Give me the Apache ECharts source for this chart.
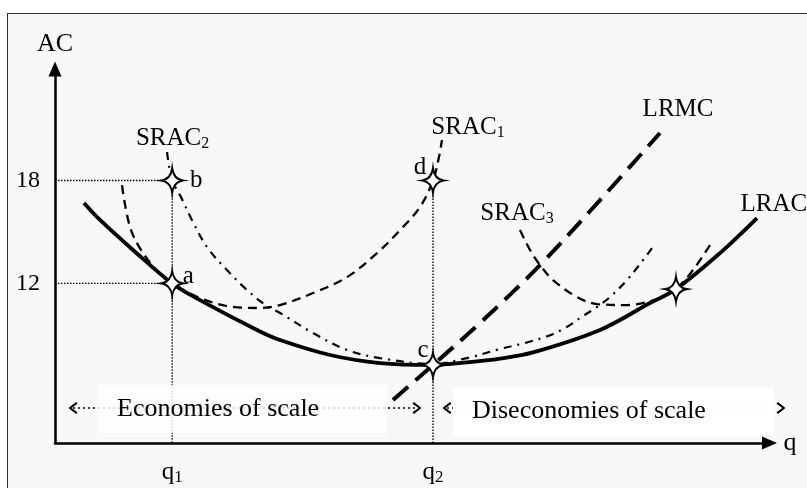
<!DOCTYPE html>
<html>
<head>
<meta charset="utf-8">
<script src="https://cdn.jsdelivr.net/npm/echarts@6/dist/echarts.min.js"></script>
<style>
html, body { margin: 0; padding: 0; background: #fff; overflow: hidden; }
#frame { position: absolute; left: 7px; top: 13px; width: 820px; height: 500px; border-top: 1.5px solid #333; border-left: 1.5px solid #333; background: #f8f8f8; }
#chart { position: absolute; left: 0; top: 0; width: 807px; height: 488px; }
</style>
</head>
<body>
<div id="frame"></div>
<div id="chart"></div>
<script>
// axes
const q1 = 16.4, q2 = 52.9;
const acMin = 2.7, acMax = 24.5;
const acTicks = [12, 18];
const qTicks = [q1, q2];
const qSubs = ['1', '2'];

// curves (q, AC)
const lracQ  = [4.06, 6.30, 10.92, 16.4, 20.29, 28.27, 31.49, 38.49, 45.49, 52.9, 57.66, 62.28, 66.9, 76.28, 83.27, 86.91, 93.07, 98.25];
const lracAC = [16.69, 15.70, 13.95, 12.0, 11.03, 9.29, 8.70, 7.83, 7.36, 7.25, 7.40, 7.62, 7.98, 9.29, 10.86, 11.67, 13.77, 15.81];

const srac1Q  = [9.38, 10.50, 12.32, 15.12, 16.4, 20.29, 24.91, 28.69, 31.49, 36.11, 40.87, 45.07, 48.29, 51.08, 52.9, 53.74, 54.16];
const srac1AC = [17.73, 15.29, 13.77, 12.37, 12.0, 11.15, 10.63, 10.57, 10.74, 11.44, 12.37, 13.77, 15.11, 16.45, 18.0, 19.37, 20.36];

const srac2Q  = [15.68, 16.4, 17.49, 19.31, 21.27, 24.07, 26.87, 29.67, 31.49, 36.11, 40.87, 45.49, 52.9, 57.66, 62.28, 65.78, 69.0, 71.38, 73.9, 75.86, 77.68, 80.06, 81.88, 83.55];
const srac2AC = [19.66, 18.0, 17.15, 15.58, 14.12, 12.78, 11.62, 10.68, 10.28, 9.11, 8.12, 7.65, 7.3, 7.65, 8.18, 8.53, 8.94, 9.40, 10.10, 10.63, 11.21, 12.20, 13.13, 14.06];

const srac3Q  = [65.08, 66.48, 67.88, 69.7, 73.06, 75.86, 80.06, 84.26, 86.91, 89.29, 91.95];
const srac3AC = [15.11, 13.95, 13.07, 12.2, 11.21, 10.8, 10.74, 11.09, 11.67, 12.78, 14.41];

const lrmcQ  = [47.31, 52.9, 59.48, 67.88, 76.28, 84.67];
const lrmcAC = [5.21, 7.25, 9.69, 13.07, 16.86, 20.77];

// marked points
const pointNames = ['b', 'd', 'a', 'c', ''];
const pointQ  = [q1, q2, q1, q2, 86.91];
const pointAC = [18, 18, 12, 7.25, 11.67];

// curve names
const labelText = ['SRAC', 'SRAC', 'SRAC', 'LRMC', 'LRAC'];
const labelSub  = ['2', '1', '3', '', ''];
const labelQ  = [16.45, 57.8, 64.66, 87.2, 100.6];
const labelAC = [20.47, 21.12, 16.10, 22.16, 16.63];

// scale regions
const regionText = ['Economies of scale', 'Diseconomies of scale'];
const regionFrom = [2.52, 54.86];
const regionTo   = [50.66, 101.6];
const regionAC = 4.74;
const boxQ  = [6.02, 55.7];
const boxAC = [4.68, 4.54];
const boxFill = ['rgba(255,255,255,0.82)', 'rgba(255,255,255,0.95)'];

const FONT = 'Liberation Serif';
const star = 'path://M0,-12 Q1.4,-1.4 10,0 Q1.4,1.4 0,12 Q-1.4,1.4 -10,0 Q-1.4,-1.4 0,-12 Z';
const chevL = 'path://M10,0 L12,2 L4,7 L12,12 L10,14 L0,7 Z';
const chevR = 'path://M2,0 L0,2 L8,7 L0,12 L2,14 L12,7 Z';
const noBorder = { textBorderWidth: 0, textBorderColor: 'transparent', textShadowBlur: 0 };

function zip(a, b) { return a.map((v, i) => [v, b[i]]); }

function curve(name, qs, acs, width, type, z) {
    return {
        name: name, type: 'line', data: zip(qs, acs), smooth: 0.35,
        symbol: 'none', z: z || 3,
        lineStyle: { color: '#000', width: width, type: type, cap: 'butt' }
    };
}

function dotted(points) {
    return {
        type: 'line', data: points, symbol: 'none', z: 2,
        lineStyle: { color: '#000', width: 1.3, type: [1.5, 1.5] }
    };
}

const series = [
    dotted([[0, 18], [q1, 18], [q1, acMin]]),
    dotted([[0, 12], [q1, 12]]),
    dotted([[q2, 18], [q2, acMin]]),
    curve('LRAC', lracQ, lracAC, 3.8, 'solid', 4),
    curve('SRAC1', srac1Q, srac1AC, 2.3, [9, 6]),
    curve('SRAC2', srac2Q, srac2AC, 2.2, [8, 6, 2, 6]),
    curve('SRAC3', srac3Q, srac3AC, 2.3, [9, 6]),
    curve('LRMC', lrmcQ, lrmcAC, 4, [20, 10])
];

regionText.forEach(function (t, i) {
    series.push({
        type: 'line', clip: false, z: 2, symbolSize: [9, 12],
        data: [{ value: [regionFrom[i], regionAC], symbol: chevL },
               { value: [regionTo[i], regionAC], symbol: chevR }],
        itemStyle: { color: '#000' },
        lineStyle: { color: '#000', width: 1.5, type: [2, 3] }
    });
});

series.push({
    type: 'scatter', clip: false, z: 5, symbol: 'circle', symbolSize: 0,
    itemStyle: { opacity: 1 },
    data: regionText.map((t, i) => ({
        value: [boxQ[i], boxAC[i]], name: t,
        label: { backgroundColor: boxFill[i] }
    })),
    label: Object.assign({
        show: true, position: 'inside', align: 'left', verticalAlign: 'middle',
        formatter: '{b}', color: '#000', fontFamily: FONT, fontSize: 26, lineHeight: 30,
        padding: [9, 68, 9, 19]
    }, noBorder)
});

series.push({
    type: 'scatter', clip: false, z: 10, symbol: star, symbolSize: [21, 25],
    itemStyle: { color: '#fff', borderColor: '#000', borderWidth: 2, opacity: 1 },
    data: pointNames.map((n, i) => ({ value: [pointQ[i], pointAC[i]], name: n })),
    label: Object.assign({
        show: true, position: 'inside', formatter: '{b}', color: '#000',
        fontFamily: FONT, fontSize: 25
    }, noBorder),
    labelLayout: function (p) {
        const off = { a: [16, -7], b: [24, 0], c: [-10, -15], d: [-13, -13] }[p.text] || [0, 0];
        return { dx: off[0], dy: off[1] };
    }
});

series.push({
    type: 'scatter', clip: false, z: 6, symbol: 'circle', symbolSize: 0,
    itemStyle: { opacity: 1 },
    data: labelText.map((t, i) => ({ value: [labelQ[i], labelAC[i]], name: t })),
    label: Object.assign({
        show: true, position: 'inside', align: 'center', verticalAlign: 'middle', color: '#000',
        formatter: p => '{m|' + labelText[p.dataIndex] + '}' + (labelSub[p.dataIndex] ? '{s|' + labelSub[p.dataIndex] + '}' : ''),
        rich: {
            m: Object.assign({ fontFamily: FONT, fontSize: 25, color: '#000', lineHeight: 28 }, noBorder),
            s: Object.assign({ fontFamily: FONT, fontSize: 16, color: '#000', lineHeight: 18, verticalAlign: 'bottom' }, noBorder)
        }
    }, noBorder)
});

const chart = echarts.init(document.getElementById('chart'));
chart.setOption({
    animation: false,
    backgroundColor: 'transparent',
    grid: { left: 55, right: 37.5, top: 69, bottom: 45, outerBoundsMode: 'none' },
    xAxis: {
        type: 'value', min: 0, max: 100,
        name: 'q', nameLocation: 'end', nameGap: 14,
        nameTextStyle: { fontFamily: FONT, fontSize: 26, color: '#000', verticalAlign: 'middle', align: 'left' },
        axisLine: { show: true, symbol: ['none', 'triangle'], symbolSize: [13, 15], lineStyle: { color: '#000', width: 2.5 } },
        axisTick: { show: false },
        splitLine: { show: false },
        axisLabel: {
            customValues: qTicks, margin: 15,
            formatter: v => '{m|q}{s|' + qSubs[qTicks.indexOf(v)] + '}',
            rich: {
                m: { fontFamily: FONT, fontSize: 25, color: '#000', lineHeight: 28 },
                s: { fontFamily: FONT, fontSize: 17, color: '#000', lineHeight: 19, verticalAlign: 'bottom' }
            }
        }
    },
    yAxis: {
        type: 'value', min: acMin, max: acMax,
        name: 'AC', nameLocation: 'end', nameGap: 25,
        nameTextStyle: { fontFamily: FONT, fontSize: 26, color: '#000', verticalAlign: 'middle', align: 'center' },
        axisLine: { show: true, symbol: ['none', 'triangle'], symbolSize: [13, 15], lineStyle: { color: '#000', width: 2.5 } },
        axisTick: { show: false },
        splitLine: { show: false },
        axisLabel: { customValues: acTicks, margin: 15, fontFamily: FONT, fontSize: 24, color: '#000' }
    },
    series: series
});
</script>
</body>
</html>
